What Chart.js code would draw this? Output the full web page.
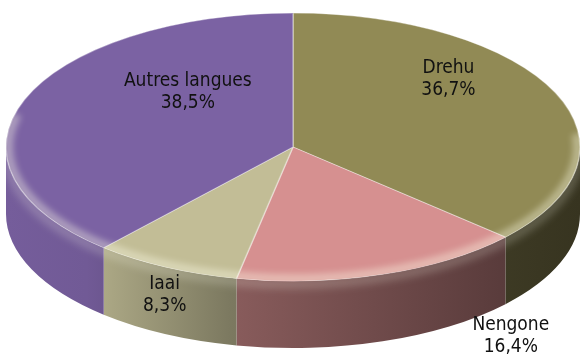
<!DOCTYPE html>
<html>
<head>
<meta charset="utf-8">
<script src="https://cdn.jsdelivr.net/npm/chart.js@4.4.1/dist/chart.umd.min.js"></script>
<style>
  html, body { margin: 0; padding: 0; background: #fff; }
  #chart { display: block; }
</style>
</head>
<body>
<canvas id="chart" width="581" height="355"></canvas>
<script>
const languages = ['Drehu', 'Nengone', 'Iaai', 'Autres langues'];
const shares = [36.7, 16.4, 8.3, 38.5];
const sliceColors = ['#918a55', '#d69090', '#c2bd96', '#7b62a3'];

// label offset from the point at 60% radius on each slice's mid angle
const labelShift = [[-2, -35], [164, 113], [-52, 76], [56, -27]];

const TILT = 0.467;   // height / width of the top face
const DEPTH = 67;     // thickness of the disc
// brightness of the side wall, left edge -> right edge
const sideShade = [[0, 0.95], [0.14, 0.92], [0.39, 0.64], [0.86, 0.42], [1, 0.38]];

const pct = v => v.toFixed(1).replace('.', ',') + '%';

function disc(chart) {
    const a = chart.chartArea;
    const rx = (a.right - a.left) / 2;
    const ry = rx * TILT;
    return { cx: (a.left + a.right) / 2, cy: a.top + ry, rx, ry };
}

function shade(hex, k) {
    const n = parseInt(hex.slice(1), 16);
    const r = Math.round(((n >> 16) & 255) * k);
    const g = Math.round(((n >> 8) & 255) * k);
    const b = Math.round((n & 255) * k);
    return `rgb(${r},${g},${b})`;
}

// draws the visible side of the disc, then squashes the pie into an ellipse
const discPlugin = {
    id: 'disc',
    beforeDatasetsDraw(chart) {
        const ctx = chart.ctx;
        const d = disc(chart);
        const arcs = chart.getDatasetMeta(0).data;

        arcs.forEach((arc, i) => {
            const a1 = Math.max(arc.startAngle, 0);
            const a2 = Math.min(arc.endAngle, Math.PI);
            if (a2 <= a1) return;
            const grad = ctx.createLinearGradient(d.cx - d.rx, 0, d.cx + d.rx, 0);
            sideShade.forEach(([t, k]) => grad.addColorStop(t, shade(sliceColors[i], k)));
            ctx.beginPath();
            ctx.ellipse(d.cx, d.cy, d.rx, d.ry, 0, a1, a2);
            ctx.ellipse(d.cx, d.cy + DEPTH, d.rx, d.ry, 0, a2, a1, true);
            ctx.closePath();
            ctx.fillStyle = grad;
            ctx.fill();
        });

        // soft light just under the rim
        ctx.save();
        ctx.beginPath();
        ctx.ellipse(d.cx, d.cy, d.rx, d.ry, 0, 0, Math.PI);
        ctx.ellipse(d.cx, d.cy + DEPTH, d.rx, d.ry, 0, Math.PI, 0, true);
        ctx.closePath();
        ctx.clip();
        ctx.filter = 'blur(4px)';
        ctx.strokeStyle = 'rgba(255,255,240,0.25)';
        ctx.lineWidth = 8;
        ctx.beginPath();
        ctx.ellipse(d.cx, d.cy + 3, d.rx, d.ry, 0, 0, Math.PI);
        ctx.stroke();
        ctx.restore();

        const arc0 = arcs[0];
        ctx.save();
        ctx.translate(d.cx, d.cy);
        ctx.scale(d.rx / arc0.outerRadius, d.ry / arc0.outerRadius);
        ctx.translate(-arc0.x, -arc0.y);
    },
    afterDatasetsDraw(chart) {
        const ctx = chart.ctx;
        ctx.restore();
        const d = disc(chart);

        // rounded edge highlight along the front of the top face
        ctx.save();
        ctx.beginPath();
        ctx.ellipse(d.cx, d.cy, d.rx, d.ry, 0, 0, Math.PI * 2);
        ctx.clip();
        ctx.filter = 'blur(3px)';
        ctx.strokeStyle = 'rgba(255,255,235,0.38)';
        ctx.lineWidth = 10;
        ctx.beginPath();
        ctx.ellipse(d.cx, d.cy, d.rx - 2, d.ry - 2, 0, -0.1, Math.PI + 0.25);
        ctx.stroke();
        ctx.restore();
    },
    afterDraw(chart) {
        const ctx = chart.ctx;
        const d = disc(chart);
        const arcs = chart.getDatasetMeta(0).data;
        ctx.save();
        ctx.font = '19px "DejaVu Sans Condensed", "DejaVu Sans", sans-serif';
        ctx.textAlign = 'center';
        ctx.textBaseline = 'middle';
        ctx.fillStyle = '#111';
        arcs.forEach((arc, i) => {
            const mid = (arc.startAngle + arc.endAngle) / 2;
            const x = d.cx + d.rx * 0.6 * Math.cos(mid) + labelShift[i][0];
            const y = d.cy + d.ry * 0.6 * Math.sin(mid) + labelShift[i][1];
            ctx.fillText(languages[i], x, y - 11);
            ctx.fillText(pct(shares[i]), x, y + 11);
        });
        ctx.restore();
    }
};

new Chart(document.querySelector('#chart'), {
    type: 'pie',
    data: {
        labels: languages,
        datasets: [{
            data: shares,
            backgroundColor: sliceColors,
            borderColor: 'rgba(255,255,255,0.35)',
            borderWidth: 1
        }]
    },
    options: {
        responsive: false,
        animation: false,
        events: [],
        layout: { padding: { left: 6, right: 1, top: 13, bottom: 0 } },
        plugins: {
            legend: { display: false },
            tooltip: { enabled: false }
        }
    },
    plugins: [discPlugin]
});
</script>
</body>
</html>
